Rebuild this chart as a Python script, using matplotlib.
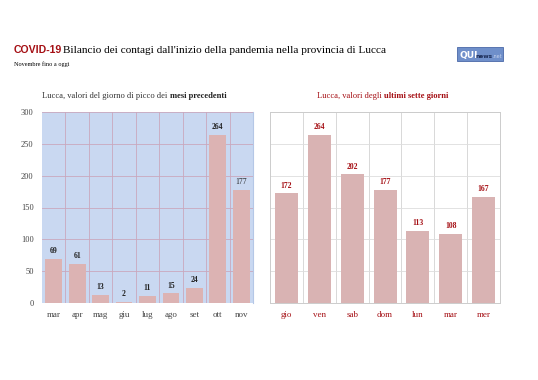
import matplotlib.pyplot as plt
from matplotlib.patches import Rectangle

mesi = ["mar", "apr", "mag", "giu", "lug", "ago", "set", "ott", "nov"]
picchi = [69, 61, 13, 2, 11, 15, 24, 264, 177]

giorni = ["gio", "ven", "sab", "dom", "lun", "mar", "mer"]
ultimi = [172, 264, 202, 177, 113, 108, 167]

W, H = 538, 380
serif = "Liberation Serif"
red = "#a50f14"


def fx(px):
    return px / W


def fy(py):
    return 1 - py / H


fig = plt.figure(figsize=(W / 100, H / 100), dpi=100)
fig.patch.set_facecolor("white")

# titolo
fig.text(fx(14), fy(53), "COVID-19", family="Liberation Sans", weight="bold",
         size=7.6, color=red, va="baseline")
fig.text(fx(63), fy(53), "Bilancio dei contagi dall'inizio della pandemia nella provincia di Lucca",
         family=serif, size=8.1, color="black", va="baseline")
fig.text(fx(14), fy(66), "Novembre fino a oggi", family=serif, size=4.5, color="black", va="baseline")

# logo
fig.patches.append(Rectangle((fx(457), fy(61)), fx(46), 14 / H, transform=fig.transFigure,
                             facecolor="#6f8fca", edgecolor="#4a68a8", lw=0.6))
fig.text(fx(459), fy(58), "QUI", family="DejaVu Sans", weight="bold", size=6.5,
         color="white", va="baseline")
fig.text(fx(476), fy(58), "news", family="DejaVu Sans", weight="bold", size=4.2,
         color="#1a2a55", va="baseline")
fig.text(fx(492), fy(58), ".net", family="DejaVu Sans", size=3.5,
         color="#c8d4ee", va="baseline")

# grafico sinistro
ax1 = fig.add_axes([fx(42), fy(303), fx(253 - 42), (303 - 112) / H])
ax1.set_facecolor("#c9d8f1")
x1 = range(len(mesi))
ax1.bar(x1, picchi, width=0.72, color="#dcb3b3", zorder=2)
for i, v in enumerate(picchi):
    ax1.text(i, v + 6, str(v), ha="center", va="bottom", family=serif,
             weight="bold" if i < 8 else "normal", size=5.5, color="#222222")
ax1.set_xlim(-0.5, len(mesi) - 0.5)
ax1.set_ylim(0, 300)
ax1.set_yticks(range(0, 301, 50))
ax1.set_xticks(list(x1))
ax1.set_xticklabels(mesi)
ax1.set_xticks([i + 0.5 for i in range(len(mesi) - 1)], minor=True)
ax1.grid(True, which="major", axis="y", color="#c9a7bd", lw=0.6, zorder=1)
ax1.grid(True, which="minor", axis="x", color="#c9a7bd", lw=0.6, zorder=1)
ax1.tick_params(which="both", length=0)
ax1.tick_params(axis="y", pad=6, labelsize=6, labelcolor="#444444")
ax1.tick_params(axis="x", pad=6, labelsize=6.5, labelcolor="#444444")
for lab in ax1.get_xticklabels() + ax1.get_yticklabels():
    lab.set_family(serif)
for s in ax1.spines.values():
    s.set_visible(False)
ax1.spines["right"].set_visible(True)
ax1.spines["right"].set_color("#b5c7e6")

fig.text(fx(170), fy(98), "Lucca, valori del giorno di picco dei ", family=serif, size=6.1,
         color="#333333", ha="right", va="baseline")
fig.text(fx(170.5), fy(98), "mesi precedenti", family=serif, size=6.1, weight="bold",
         color="#222222", ha="left", va="baseline")

# grafico destro
ax2 = fig.add_axes([fx(270), fy(303), fx(500 - 270), (303 - 112) / H])
ax2.set_facecolor("white")
x2 = range(len(giorni))
ax2.bar(x2, ultimi, width=0.7, color="#d9b3b3", zorder=2)
for i, v in enumerate(ultimi):
    ax2.text(i, v + 6, str(v), ha="center", va="bottom", family=serif,
             weight="bold", size=5.5, color=red)
ax2.set_xlim(-0.5, len(giorni) - 0.5)
ax2.set_ylim(0, 300)
ax2.set_yticks(range(0, 301, 50))
ax2.set_yticklabels([])
ax2.set_xticks(list(x2))
ax2.set_xticklabels(giorni)
ax2.set_xticks([i + 0.5 for i in range(len(giorni) - 1)], minor=True)
ax2.grid(True, which="major", axis="y", color="#dddddd", lw=0.6, zorder=1)
ax2.grid(True, which="minor", axis="x", color="#d2d2d2", lw=0.6, zorder=1)
ax2.tick_params(which="both", length=0)
ax2.tick_params(axis="x", pad=6, labelsize=6.5, labelcolor=red)
for lab in ax2.get_xticklabels():
    lab.set_family(serif)
for s in ax2.spines.values():
    s.set_color("#cccccc")
    s.set_linewidth(0.7)

fig.text(fx(384), fy(98), "Lucca, valori degli ", family=serif, size=6.1,
         color=red, ha="right", va="baseline")
fig.text(fx(384.5), fy(98), "ultimi sette giorni", family=serif, size=6.1, weight="bold",
         color=red, ha="left", va="baseline")

fig.savefig("out.png", dpi=100)
